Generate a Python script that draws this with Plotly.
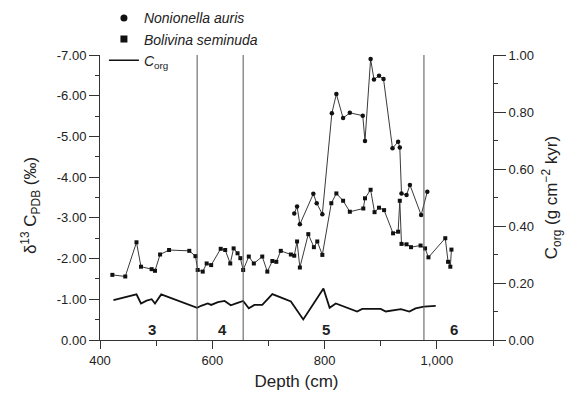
import plotly.graph_objects as go

# ---- data ----
# Bolivina seminuda (lower delta13C series)
depth_bol = [422, 445, 465, 473, 492, 498, 507, 523, 559, 570, 574, 583, 590, 598,
             615, 623, 632, 638, 645, 650, 655, 665, 674, 689, 698, 707, 714, 722,
             740, 746, 751, 756, 771, 781, 787, 796, 812, 821, 833, 845, 869, 872,
             882, 889, 897, 906, 922, 931, 934, 937, 946, 954, 971, 979, 985, 1015,
             1020, 1024, 1026]
d13c_bol = [-1.60, -1.56, -2.40, -1.80, -1.74, -1.70, -2.10, -2.21, -2.19, -2.06, -1.72,
            -1.68, -1.88, -1.84, -2.24, -2.21, -1.88, -2.25, -2.13, -2.01, -1.72, -2.05,
            -1.88, -2.05, -1.68, -1.94, -1.92, -2.19, -2.10, -2.07, -2.42, -1.78, -2.60,
            -2.28, -2.42, -2.09, -3.36, -3.60, -3.42, -3.15, -3.23, -3.48, -3.69, -3.14,
            -3.25, -3.19, -2.62, -2.66, -3.42, -2.36, -2.35, -2.28, -2.32, -2.25, -2.03,
            -2.50, -1.92, -1.80, -2.22]

# Nonionella auris (upper delta13C series)
depth_non = [746, 751, 756, 780, 786, 796, 813, 821, 833, 845, 868, 872, 882, 888,
             897, 905, 921, 931, 934, 937, 946, 952, 972, 983]
d13c_non = [-3.11, -3.28, -2.84, -3.59, -3.36, -3.09, -5.57, -6.04, -5.45, -5.58,
            -5.51, -4.89, -6.90, -6.40, -6.49, -6.41, -4.71, -4.87, -4.73, -3.60,
            -3.56, -3.81, -3.07, -3.64]

# C_org accumulation (right axis)
depth_corg = [424, 465, 473, 483, 492, 498, 509, 573, 580, 592, 598, 610, 622, 633,
              645, 655, 665, 675, 689, 707, 724, 740, 762, 798, 809, 820, 858, 867,
              900, 909, 936, 951, 962, 977, 998]
corg = [0.140, 0.160, 0.128, 0.138, 0.143, 0.128, 0.160, 0.113, 0.120, 0.128, 0.123,
        0.133, 0.137, 0.122, 0.130, 0.137, 0.111, 0.123, 0.123, 0.161, 0.148, 0.135,
        0.072, 0.181, 0.113, 0.128, 0.100, 0.109, 0.109, 0.100, 0.108, 0.100, 0.111,
        0.117, 0.120]

# isotope stage boundaries and labels
stage_bounds = [573, 655, 977]
stage_names = ["3", "4", "5", "6"]
stage_depths = [493, 618, 803, 1030]
stage_label_value = -0.25

# axis ticks
x_ticks = [400, 600, 800, 1000]
x_ticklabels = ["400", "600", "800", "1,000"]
left_ticks = [0, -1, -2, -3, -4, -5, -6, -7]
left_ticklabels = ["0.00", "-1.00", "-2.00", "-3.00", "-4.00", "-5.00", "-6.00", "-7.00"]
right_ticks = [0, 0.2, 0.4, 0.6, 0.8, 1.0]
right_ticklabels = ["0.00", "0.20", "0.40", "0.60", "0.80", "1.00"]

left_title = "δ<sup>13</sup> C<sub>PDB</sub> (‰)"
right_title = "C<sub>org</sub> (g cm<sup>−2</sup> kyr)"

FONT = "Liberation Sans, Arial, sans-serif"
LINE = "#3a3a3a"

fig = go.Figure()

fig.add_trace(go.Scatter(x=depth_bol, y=d13c_bol, mode="lines+markers",
                         line=dict(color=LINE, width=1),
                         marker=dict(symbol="square", size=4, color="#111"),
                         showlegend=False))
fig.add_trace(go.Scatter(x=depth_non, y=d13c_non, mode="lines+markers",
                         line=dict(color=LINE, width=1),
                         marker=dict(symbol="circle", size=4.5, color="#111"),
                         showlegend=False))
fig.add_trace(go.Scatter(x=depth_corg, y=corg, mode="lines", yaxis="y2",
                         line=dict(color="#111", width=1.8),
                         showlegend=False))

# legend entries
fig.add_trace(go.Scatter(x=[None], y=[None], mode="markers",
                         marker=dict(symbol="circle", size=7, color="#111"),
                         name="<i>Nonionella auris</i>"))
fig.add_trace(go.Scatter(x=[None], y=[None], mode="markers",
                         marker=dict(symbol="square", size=7, color="#111"),
                         name="<i>Bolivina seminuda</i>"))
fig.add_trace(go.Scatter(x=[None], y=[None], mode="lines",
                         line=dict(color="#111", width=1.5),
                         name="<i>C</i><sub>org</sub>"))

for b in stage_bounds:
    fig.add_shape(type="line", xref="x", yref="y", x0=b, x1=b, y0=0, y1=-7,
                  line=dict(color="#555", width=1))

for name, d in zip(stage_names, stage_depths):
    fig.add_annotation(x=d, y=stage_label_value, xref="x", yref="y", text=f"<b>{name}</b>",
                       showarrow=False, font=dict(size=15, color="#222", family=FONT))

# left axis title as rotated text
fig.add_annotation(x=-0.178, y=0.47, xref="paper", yref="paper", text=left_title,
                   textangle=-90, showarrow=False, xanchor="center", yanchor="middle",
                   font=dict(size=17, color="#222", family=FONT))

fig.update_layout(
    width=570, height=402,
    margin=dict(l=92, r=85, t=47, b=70, autoexpand=False),
    paper_bgcolor="white", plot_bgcolor="white",
    font=dict(family=FONT, size=13, color="#222"),
    showlegend=True,
    legend=dict(x=0.01, y=1.185, xanchor="left", yanchor="top",
                font=dict(size=14, color="#222"), itemwidth=30,
                tracegroupgap=0, bgcolor="rgba(0,0,0,0)", itemsizing="trace"),
    xaxis=dict(range=[400, 1100], tickvals=x_ticks, ticktext=x_ticklabels,
               showline=True, linecolor="#333", linewidth=1, ticks="outside",
               ticklen=8, tickcolor="#333", showgrid=False, zeroline=False,
               minor=dict(dtick=100, ticks="outside", ticklen=5, tickcolor="#333"),
               title=dict(text="Depth (cm)", font=dict(size=17), standoff=8),
               tickfont=dict(size=13)),
    yaxis=dict(range=[0, -7], tickvals=left_ticks, ticktext=left_ticklabels,
               showline=True,
               linecolor="#333", linewidth=1, ticks="outside", ticklen=10,
               tickcolor="#333", showgrid=False, zeroline=False,
               minor=dict(dtick=0.5, ticks="outside", ticklen=4, tickcolor="#333"),
               tickfont=dict(size=13)),
    yaxis2=dict(range=[0, 1], tickvals=right_ticks, ticktext=right_ticklabels,
                overlaying="y", side="right",
                showline=True, linecolor="#333", linewidth=1, ticks="outside",
                ticklen=12, tickcolor="#333", showgrid=False, zeroline=False,
                minor=dict(dtick=0.1, ticks="outside", ticklen=4, tickcolor="#333"),
                title=dict(text=right_title, font=dict(size=17), standoff=12),
                tickfont=dict(size=13)),
)

fig.write_html("out.html")
